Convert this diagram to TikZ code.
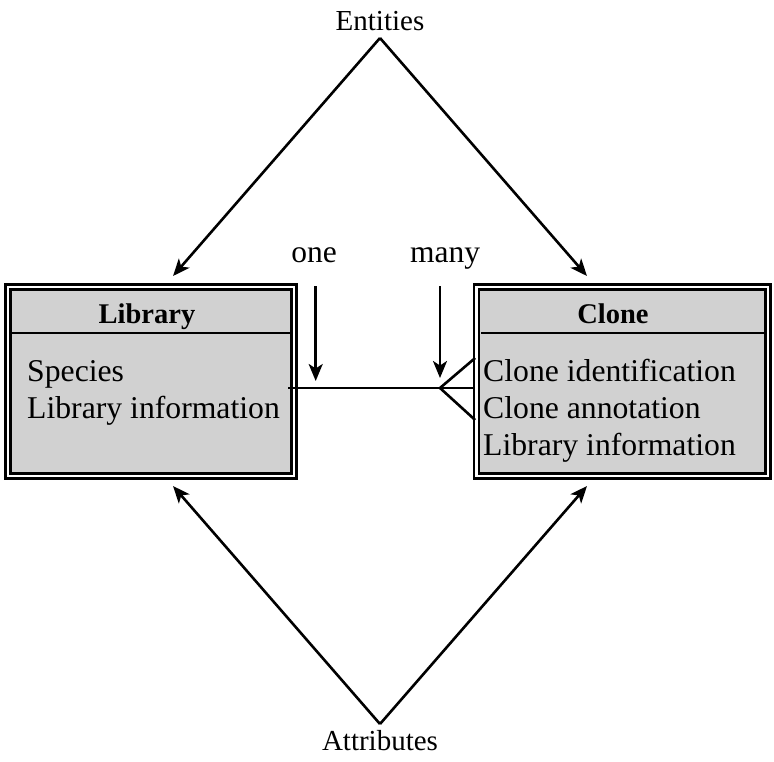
\documentclass[tikz,border=0pt]{standalone}
\usepackage{fontspec}
\setmainfont{Liberation Serif}
\usetikzlibrary{arrows.meta}
\definecolor{boxgray}{HTML}{D1D1D1}
\tikzset{
  entity/.style={draw=black, fill=boxgray, line width=2.8pt, double=white,
    double distance=2.2pt, inner sep=0pt},
  body/.style={font=\fontsize{31.7}{37}\selectfont, inner sep=0pt, align=left, anchor=base west},
  title/.style={font=\fontsize{28.5}{34}\selectfont\bfseries, inner sep=0pt, anchor=base},
  label/.style={font=\fontsize{29}{34}\selectfont, inner sep=0pt, anchor=base},
  word/.style={font=\fontsize{31.5}{36}\selectfont, inner sep=0pt, anchor=base},
  link/.style={line width=2.6pt},
  pointer/.style={line width=2.6pt, -{Stealth[length=17pt,width=14pt,inset=4.5pt]}},
}
\begin{document}
\begin{tikzpicture}[x=1pt,y=-1pt]
  \useasboundingbox (0,0) rectangle (774,761);

  % entity boxes
  \node[entity, minimum width=286.3pt, minimum height=189.3pt] (lib) at (151,381.5) {};
  \node[entity, minimum width=291.6pt, minimum height=189.3pt] (clone) at (622.35,381.5) {};

  % header separators
  \draw[link] ([xshift=6pt]lib.west |- 0,333) -- ([xshift=-6pt]lib.east |- 0,333);
  \draw[link] ([xshift=6pt]clone.west |- 0,333) -- ([xshift=-6pt]clone.east |- 0,333);

  % titles
  \node[title] (libtitle) at (147,323) {Library};
  \node[title] (clonetitle) at (613,323) {Clone};

  % attribute lists
  \node[body] (libspecies) at (27,381.5) {Species};
  \node[body] (libinfo) at (27,418.5) {Library information};
  \node[body] (cloneid) at (483,381.5) {Clone identification};
  \node[body] (cloneann) at (483,418.5) {Clone annotation};
  \node[body] (cloneinfo) at (483,455.5) {Library information};

  % relationship line with crow's foot
  \coordinate (relstart) at (288,388);
  \coordinate (crow) at (440,388);
  \draw[link] (relstart) -- (relstart -| clone.west);
  \draw[link] (crow) -- (clone.west |- 0,358);
  \draw[link] (crow) -- (clone.west |- 0,420);

  % cardinality labels
  \node[word] (one) at (314,262) {one};
  \node[word] (many) at (445,262) {many};
  \coordinate (onetop) at (315.7,286);
  \coordinate (oneend) at (315.7,381);
  \coordinate (manytop) at (440,286);
  \coordinate (manyend) at (440,378);
  \draw[pointer] (onetop) -- (oneend);
  \draw[pointer] (manytop) -- (manyend);

  % Entities
  \node[label] (ent) at (380,30) {Entities};
  \coordinate (entapex) at (380,38);
  \coordinate (entl) at (173,276);
  \coordinate (entr) at (587,276);
  \draw[pointer] (entapex) -- (entl);
  \draw[pointer] (entapex) -- (entr);

  % Attributes
  \node[label] (attr) at (380,750) {Attributes};
  \coordinate (attrapex) at (380,724);
  \coordinate (attrl) at (173,486);
  \coordinate (attrr) at (587,486);
  \draw[pointer] (attrapex) -- (attrl);
  \draw[pointer] (attrapex) -- (attrr);
\end{tikzpicture}
\end{document}
